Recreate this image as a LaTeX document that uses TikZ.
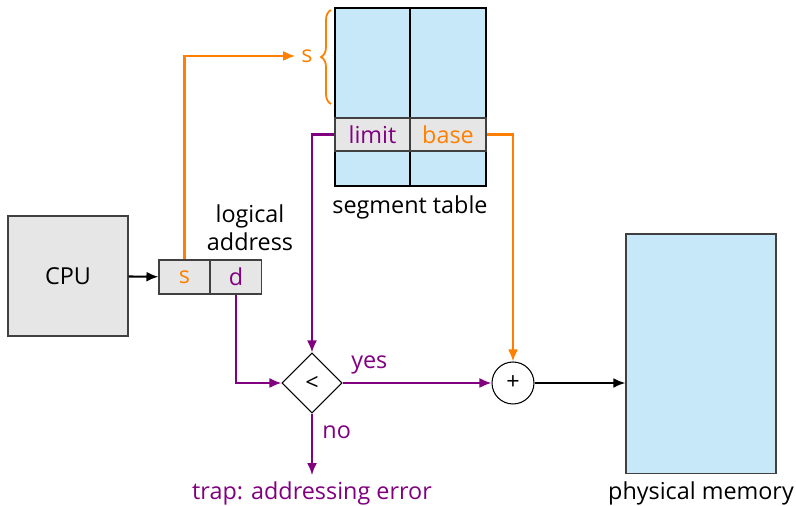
\documentclass[tikz,border=0pt]{standalone}
\usepackage{fontspec}
\setmainfont{Open Sans}
\usetikzlibrary{shapes.geometric,decorations.pathreplacing,arrows.meta}
\definecolor{segorange}{HTML}{FF8000}
\definecolor{segpurple}{HTML}{800080}
\definecolor{tblue}{HTML}{C6E8F8}
\definecolor{boxgray}{HTML}{E6E6E6}

\begin{document}
\begin{tikzpicture}[x=0.02cm,y=-0.02cm,font=\fontsize{13.3}{15}\selectfont,
    cell/.style={draw=black!75,line width=0.6pt,fill=boxgray,inner sep=0pt,minimum width=1.02cm,minimum height=0.68cm},
    flow/.style={line width=1.2pt,-{Latex[length=2.4mm,width=2mm]}}]
    \useasboundingbox (0,0) rectangle (796,506);
    \node[cell,minimum size=2.4cm] (cpu) at (68,276) {CPU};
    \node[cell,text=segorange] (s) at (184.5,277) {s};
    \node[cell,text=segpurple] (d) at (236,277) {d};
    \node[align=center] (la) at (250,228) {logical\\[1pt]address};
    \draw[line width=0.7pt,fill=tblue] (335,8) rectangle (486,186);
    \draw[line width=0.7pt] (410,8) -- (410,186);
    \node[cell,minimum width=1.5cm,minimum height=0.66cm,text=segpurple] (limit) at (372.5,134.5) {limit};
    \node[cell,minimum width=1.52cm,minimum height=0.66cm,text=segorange] (base) at (448,134.5) {base};
    \node (st) at (410,207) {segment table};
    \draw[segorange,line width=1pt,decorate,decoration={brace,amplitude=0.2cm}] (331,104) -- (331,10);
    \node[text=segorange] (sidx) at (307,56) {s};
    \node[draw,diamond,aspect=1,minimum size=1.2cm,inner sep=0pt,line width=0.6pt] (cmp) at (312,383) {<};
    \node[draw,circle,minimum size=0.84cm,inner sep=0pt,line width=0.6pt] (add) at (513,383) {+};
    \node[draw=black!75,line width=0.6pt,fill=tblue,minimum width=3cm,minimum height=4.8cm] (mem) at (701,354) {};
    \node (pm) at (701,493) {physical memory};
    \node[text=segpurple] (trap) at (312,493) {trap: addressing error};
    \draw[flow] (cpu) -- (s);
    \draw[flow,segorange] (s.north) |- (sidx.west);
    \draw[flow,segpurple] (limit.west) -| (cmp.north);
    \draw[flow,segpurple] (d.south) |- (cmp.west);
    \draw[flow,segorange] (base.east) -| (add.north);
    \draw[flow,segpurple] (cmp.east) -- node[pos=0.18,above=1pt]{yes} (add.west);
    \draw[flow,segpurple] (cmp.south) -- node[pos=0.3,right=2pt]{no} (trap.north);
    \draw[flow,line width=1.5pt] (add.east) -- (add.east -| mem.west);
  \end{tikzpicture}
\end{document}
